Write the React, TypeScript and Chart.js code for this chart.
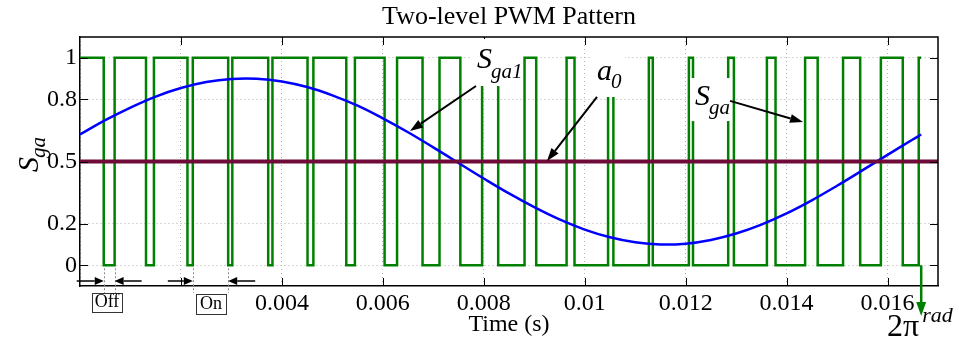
import React, { useEffect, useRef } from 'react';
import { Chart, registerables } from 'chart.js';

Chart.register(...registerables);

const SERIF = '"Liberation Serif", "DejaVu Serif", serif';

// ---- axes ----
const X_MIN = 0;
const X_MAX = 0.017;
const Y_MIN = -0.1;
const Y_MAX = 1.1;
const X_TICKS = [0, 0.002, 0.004, 0.006, 0.008, 0.01, 0.012, 0.014, 0.016];
const X_TICK_LABELS = ['', '', '0.004', '0.006', '0.008', '0.01', '0.012', '0.014', '0.016'];
const Y_TICKS = [0, 0.2, 0.5, 0.8, 1];
const Y_TICK_LABELS = ['0', '0.2', '0.5', '0.8', '1'];

const TITLE = 'Two-level PWM Pattern';
const X_LABEL = 'Time (s)';

// ---- modulating signal S_ga1 (blue) ----
const SGA1_T = [
  0, 0.0005, 0.001, 0.0015, 0.002, 0.0025, 0.003, 0.0035, 0.004, 0.0045,
  0.005, 0.0055, 0.006, 0.0065, 0.007, 0.0075, 0.008, 0.0085, 0.009, 0.0095,
  0.01, 0.0105, 0.011, 0.0115, 0.012, 0.0125, 0.013, 0.0135, 0.014, 0.0145,
  0.015, 0.0155, 0.016, 0.0165, 0.016667,
];
const SGA1_V = [
  0.630, 0.699, 0.760, 0.813, 0.854, 0.883, 0.898, 0.899, 0.886, 0.859,
  0.819, 0.769, 0.708, 0.641, 0.568, 0.493, 0.418, 0.346, 0.280, 0.221,
  0.172, 0.135, 0.111, 0.100, 0.104, 0.122, 0.153, 0.196, 0.250, 0.313,
  0.383, 0.457, 0.532, 0.606, 0.630,
];

// ---- reference a0 (maroon) ----
const A0_T = [0, 0.017];
const A0_V = [0.5, 0.5];

// ---- PWM switching pattern S_ga (green) ----
const SGA_START_LEVEL = 1;
const SGA_SWITCH_T = [
  0.000470, 0.000686,
  0.001308, 0.001465,
  0.002129, 0.002235,
  0.002936, 0.003018,
  0.003729, 0.003813,
  0.004508, 0.004624,
  0.005276, 0.005447,
  0.006035, 0.006282,
  0.006787, 0.007123,
  0.007536, 0.007967,
  0.008286, 0.008808,
  0.009039, 0.009641,
  0.009798, 0.010463,
  0.010568, 0.011271,
  0.011349, 0.012064,
  0.012146, 0.012843,
  0.012956, 0.013610,
  0.013781, 0.014367,
  0.014616, 0.015119,
  0.015458, 0.015868,
  0.016302, 0.016618,
];
const SGA_END_T = 0.016667;

function buildPwm() {
  const pts: { x: number; y: number }[] = [{ x: 0, y: SGA_START_LEVEL }];
  let level = SGA_START_LEVEL;
  for (const t of SGA_SWITCH_T) {
    pts.push({ x: t, y: level });
    level = 1 - level;
    pts.push({ x: t, y: level });
  }
  pts.push({ x: SGA_END_T, y: level });
  return pts;
}

function arrow(ctx: CanvasRenderingContext2D, x1: number, y1: number, x2: number, y2: number,
  color: string, lw: number, hl: number, hw: number) {
  const a = Math.atan2(y2 - y1, x2 - x1);
  const bx = x2 - hl * Math.cos(a);
  const by = y2 - hl * Math.sin(a);
  ctx.strokeStyle = color;
  ctx.lineWidth = lw;
  ctx.setLineDash([]);
  ctx.beginPath();
  ctx.moveTo(x1, y1);
  ctx.lineTo(bx, by);
  ctx.stroke();
  ctx.fillStyle = color;
  ctx.beginPath();
  ctx.moveTo(x2, y2);
  ctx.lineTo(bx + hw * Math.sin(a), by - hw * Math.cos(a));
  ctx.lineTo(bx - hw * Math.sin(a), by + hw * Math.cos(a));
  ctx.closePath();
  ctx.fill();
}

function subText(ctx: CanvasRenderingContext2D, x: number, y: number, main: string, sub: string,
  mainSize: number, subSize: number, dx: number, dy: number) {
  ctx.fillStyle = '#000';
  ctx.textAlign = 'left';
  ctx.textBaseline = 'alphabetic';
  ctx.font = `italic ${mainSize}px ${SERIF}`;
  ctx.fillText(main, x, y);
  const w = ctx.measureText(main).width;
  ctx.font = `italic ${subSize}px ${SERIF}`;
  ctx.fillText(sub, x + w + dx, y + dy);
}

const decor = {
  id: 'decor',
  afterDatasetsDraw(chart: any) {
    const { ctx, chartArea: ca, scales } = chart;
    const xs = scales.x;
    const ys = scales.y;
    const P = (t: number, v: number) => [xs.getPixelForValue(t), ys.getPixelForValue(v)];
    ctx.save();

    // frame top/right
    ctx.strokeStyle = '#000';
    ctx.lineWidth = 1.5;
    ctx.beginPath();
    ctx.moveTo(ca.left, ca.top);
    ctx.lineTo(ca.right, ca.top);
    ctx.lineTo(ca.right, ca.bottom);
    ctx.stroke();

    // inward ticks
    ctx.lineWidth = 1;
    ctx.beginPath();
    for (const t of X_TICKS) {
      if (t <= X_MIN) continue;
      const x = Math.round(xs.getPixelForValue(t)) + 0.5;
      ctx.moveTo(x, ca.bottom);
      ctx.lineTo(x, ca.bottom - 8);
      ctx.moveTo(x, ca.top);
      ctx.lineTo(x, ca.top + 8);
    }
    for (const v of Y_TICKS) {
      const y = Math.round(ys.getPixelForValue(v)) + 0.5;
      ctx.moveTo(ca.left, y);
      ctx.lineTo(ca.left + 8, y);
      ctx.moveTo(ca.right, y);
      ctx.lineTo(ca.right - 8, y);
    }
    ctx.stroke();

    // title & axis labels
    ctx.fillStyle = '#000';
    ctx.textAlign = 'center';
    ctx.textBaseline = 'alphabetic';
    ctx.font = `26px ${SERIF}`;
    ctx.fillText(TITLE, (ca.left + ca.right) / 2, 24);
    ctx.font = `24px ${SERIF}`;
    ctx.fillText(X_LABEL, (ca.left + ca.right) / 2, 331);

    ctx.save();
    ctx.translate(38, 172);
    ctx.rotate(-Math.PI / 2);
    subText(ctx, 0, 0, 'S', 'ga', 30, 21, -1, 7);
    ctx.restore();

    // labels with white boxes
    const boxes = [
      { t: 0.007866, v: 0.9506, main: 'S', sub: 'ga1', box: [-6, -29, 45, 18], dx: -1, dy: 10 },
      { t: 0.010244, v: 0.8928, main: 'a', sub: '0', box: [-5, -30, 28, 17], dx: -1, dy: 8 },
      { t: 0.012186, v: 0.772, main: 'S', sub: 'ga', box: [-5, -27, 36, 16], dx: -1, dy: 9 },
    ];
    for (const b of boxes) {
      const [x, y] = P(b.t, b.v);
      ctx.fillStyle = '#fff';
      ctx.fillRect(x + b.box[0], y + b.box[1], b.box[2] - b.box[0], b.box[3] - b.box[1]);
      subText(ctx, x, y, b.main, b.sub, 30, 21, b.dx, b.dy);
    }

    // annotation arrows
    const arrows = [
      [0.007846, 0.864, 0.006539, 0.647],
      [0.010244, 0.811, 0.009253, 0.502],
      [0.012879, 0.792, 0.014326, 0.690],
    ];
    for (const a of arrows) {
      const [x1, y1] = P(a[0], a[1]);
      const [x2, y2] = P(a[2], a[3]);
      arrow(ctx, x1, y1, x2, y2, '#000', 2, 13, 4.5);
    }

    // Off / On markers
    const y0 = ys.getPixelForValue(0);
    const offL = xs.getPixelForValue(SGA_SWITCH_T[0]);
    const offR = xs.getPixelForValue(SGA_SWITCH_T[1]);
    const onL = xs.getPixelForValue(SGA_SWITCH_T[5]);
    const onR = xs.getPixelForValue(SGA_SWITCH_T[6]);
    ctx.strokeStyle = '#8a8a8a';
    ctx.lineWidth = 1;
    ctx.setLineDash([2, 2]);
    ctx.beginPath();
    for (const x of [offL, offR, onL, onR]) {
      ctx.moveTo(Math.round(x) + 0.5, y0 + 3);
      ctx.lineTo(Math.round(x) + 0.5, 293);
    }
    ctx.stroke();
    ctx.setLineDash([]);
    const ay = 281;
    arrow(ctx, offL - 27, ay, offL, ay, '#000', 1.5, 9, 4);
    arrow(ctx, offR + 27, ay, offR, ay, '#000', 1.5, 9, 4);
    arrow(ctx, onL - 25, ay, onL, ay, '#000', 1.5, 9, 4);
    arrow(ctx, onR + 27, ay, onR, ay, '#000', 1.5, 9, 4);

    const labelBox = (x: number, y: number, w: number, h: number, txt: string) => {
      ctx.fillStyle = '#fff';
      ctx.fillRect(x, y, w, h);
      ctx.strokeStyle = '#333';
      ctx.lineWidth = 1;
      ctx.strokeRect(x + 0.5, y + 0.5, w, h);
      ctx.fillStyle = '#000';
      ctx.font = `18px ${SERIF}`;
      ctx.textAlign = 'center';
      ctx.textBaseline = 'alphabetic';
      ctx.fillText(txt, x + w / 2, y + h - 5);
    };
    labelBox(Math.round(offL) - 12, 293, 30, 19, 'Off');
    labelBox(Math.round(onL) + 3, 294, 30, 20, 'On');

    // 2π marker
    const xe = xs.getPixelForValue(SGA_END_T);
    arrow(ctx, xe, y0, xe, 316, '#008000', 2.5, 14, 5);
    ctx.fillStyle = '#000';
    ctx.textAlign = 'right';
    ctx.font = `32px ${SERIF}`;
    ctx.fillText('2\u03c0', xe - 2, 336);
    ctx.textAlign = 'left';
    ctx.font = `italic 22px ${SERIF}`;
    ctx.fillText('rad', xe + 1, 322);

    ctx.restore();
  },
};

export default function App() {
  const ref = useRef<HTMLCanvasElement | null>(null);
  useEffect(() => {
    const canvas = ref.current;
    if (!canvas) return;
    const chart = new Chart(canvas, {
      type: 'line',
      data: {
        datasets: [
          {
            label: 'a0',
            data: A0_T.map((t, i) => ({ x: t, y: A0_V[i] })),
            borderColor: '#6e0b38',
            borderWidth: 4,
            pointRadius: 0,
            tension: 0,
          },
          {
            label: 'Sga1',
            data: SGA1_T.map((t, i) => ({ x: t, y: SGA1_V[i] })),
            borderColor: '#0000ff',
            borderWidth: 2.5,
            pointRadius: 0,
            tension: 0.4,
          },
          {
            label: 'Sga',
            data: buildPwm(),
            borderColor: '#008000',
            borderWidth: 2.5,
            pointRadius: 0,
            tension: 0,
          },
        ],
      },
      options: {
        responsive: false,
        animation: false,
        events: [],
        layout: { padding: { top: 37, right: 21, left: 0, bottom: 0 } },
        plugins: { legend: { display: false }, title: { display: false }, tooltip: { enabled: false } },
        scales: {
          x: {
            type: 'linear',
            min: X_MIN,
            max: X_MAX,
            afterBuildTicks: (s: any) => { s.ticks = X_TICKS.map((v) => ({ value: v })); },
            afterFit: (s: any) => { s.height = 54; },
            ticks: {
              callback: (v: any) => {
                const i = X_TICKS.findIndex((t) => Math.abs(t - Number(v)) < 1e-9);
                return i >= 0 ? X_TICK_LABELS[i] : '';
              },
              font: { family: SERIF, size: 24 },
              color: '#000',
              padding: 3,
              maxRotation: 0,
              autoSkip: false,
            },
            grid: { color: '#b0b0b0', lineWidth: 1, drawTicks: false },
            border: { display: true, color: '#000', width: 1.5, dash: [1, 3] },
          },
          y: {
            type: 'linear',
            min: Y_MIN,
            max: Y_MAX,
            afterBuildTicks: (s: any) => { s.ticks = Y_TICKS.map((v) => ({ value: v })); },
            afterFit: (s: any) => { s.width = 80; },
            ticks: {
              callback: (v: any) => {
                const i = Y_TICKS.findIndex((t) => Math.abs(t - Number(v)) < 1e-9);
                return i >= 0 ? Y_TICK_LABELS[i] : '';
              },
              font: { family: SERIF, size: 24 },
              color: '#000',
              padding: 3,
              autoSkip: false,
            },
            grid: { color: '#b0b0b0', lineWidth: 1, drawTicks: false },
            border: { display: true, color: '#000', width: 1.5, dash: [1, 3] },
          },
        },
      },
      plugins: [decor],
    } as any);
    return () => chart.destroy();
  }, []);
  return (
    <div style={{ position: 'fixed', left: 0, top: 0, width: 959, height: 340, background: '#fff' }}>
      <canvas ref={ref} width={959} height={340} style={{ display: 'block' }} />
    </div>
  );
}
